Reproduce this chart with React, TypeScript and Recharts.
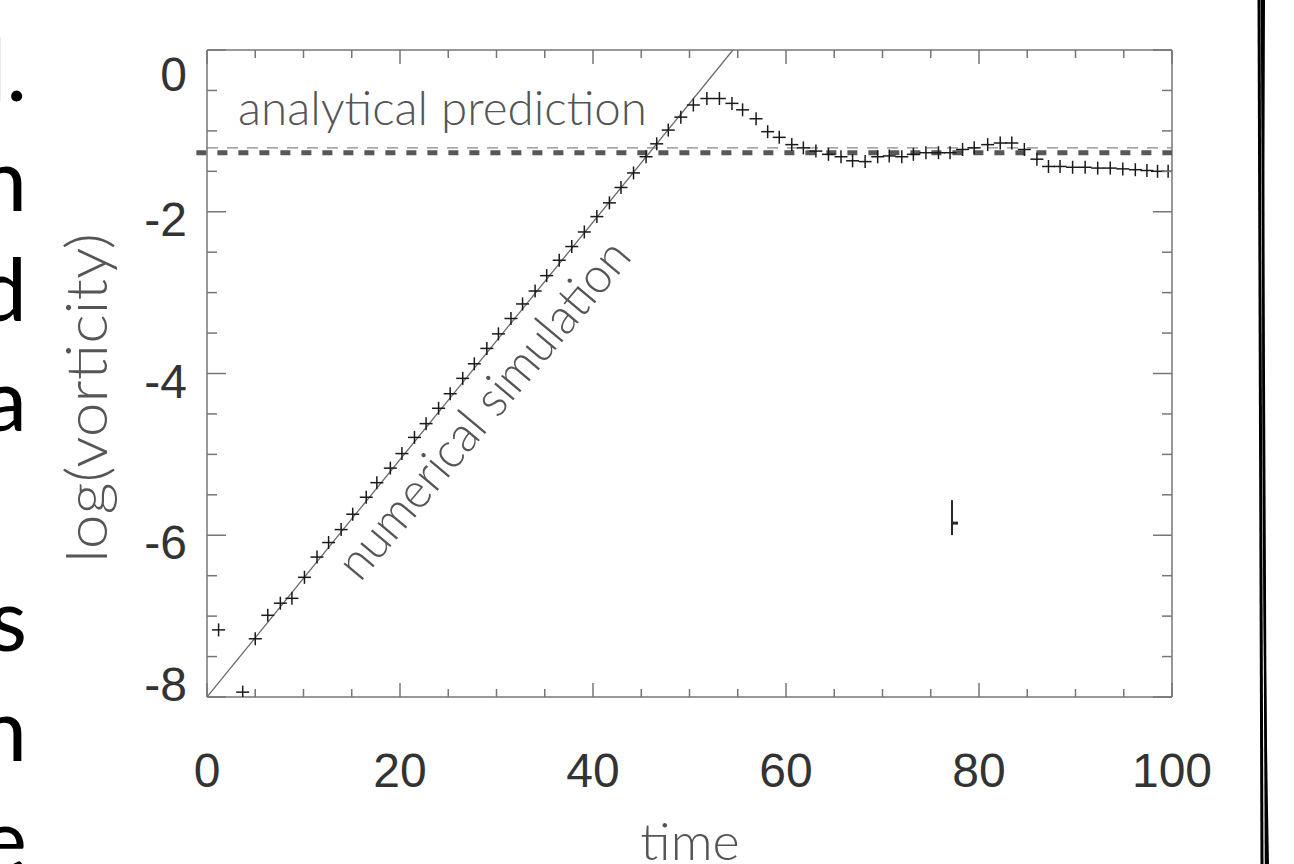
import React from 'react';
import { ComposedChart, Scatter, Line, XAxis, YAxis, ReferenceLine } from 'recharts';

// simulation samples (log vorticity vs time)
const simTime = [
  1.2, 3.7, 5.0, 6.3, 7.6, 8.8, 10.1, 11.4, 12.6, 13.9, 15.1, 16.5, 17.6, 19.0, 20.2, 21.5,
  22.7, 24.0, 25.2, 26.5, 27.7, 29.0, 30.2, 31.5, 32.7, 34.0, 35.2, 36.5, 37.8, 39.1, 40.4,
  41.7, 42.9, 44.2, 45.5, 46.6, 47.8, 49.1, 50.4, 51.8, 53.1, 54.4, 55.5, 56.9, 58.1, 59.3,
  60.6, 61.8, 63.1, 64.4, 65.7, 66.9, 68.2, 69.5, 70.7, 72.0, 73.2, 74.5, 75.8, 77.0, 78.3,
  79.5, 80.9, 82.2, 83.4, 84.7, 86.0, 87.2, 88.4, 89.7, 91.0, 92.3, 93.6, 94.9, 96.2, 97.4,
  98.5, 99.6
];
const simLogVort = [
  -7.17, -7.94, -7.28, -6.99, -6.84, -6.78, -6.52, -6.27, -6.09, -5.93, -5.74, -5.53, -5.35, -5.17, -4.99, -4.79,
  -4.62, -4.43, -4.25, -4.06, -3.88, -3.69, -3.51, -3.32, -3.14, -2.98, -2.79, -2.6, -2.43, -2.25, -2.06,
  -1.89, -1.7, -1.52, -1.32, -1.16, -0.99, -0.83, -0.68, -0.6, -0.6, -0.66, -0.74, -0.85, -1.01, -1.08,
  -1.17, -1.21, -1.25, -1.29, -1.32, -1.37, -1.38, -1.32, -1.31, -1.32, -1.29, -1.27, -1.27, -1.27, -1.23,
  -1.21, -1.17, -1.15, -1.15, -1.23, -1.35, -1.44, -1.44, -1.45, -1.45, -1.46, -1.46, -1.47, -1.48, -1.49,
  -1.5, -1.5
];

// linear growth fit
const theoryTime = [0, 54.5];
const theoryLogVort = [-8, 0];

// saturation levels
const predictionThin = -1.21;
const predictionThick = -1.27;

// stray mark in the lower right
const strayTime = [77.2];
const strayLogVort = [-5.85];

const xTicks = [0, 5, 10, 15, 20, 25, 30, 35, 40, 45, 50, 55, 60, 65, 70, 75, 80, 85, 90, 95, 100];
const xLabels = [0, 20, 40, 60, 80, 100];
const yTicks = [-8, -7.5, -7, -6.5, -6, -5.5, -5, -4.5, -4, -3.5, -3, -2.5, -2, -1.5, -1, -0.5, 0];
const yLabels = [-8, -6, -4, -2, 0];

// cut-off slide text on the left edge
const sideText = ['d.', 'n', 'd', 'a', '', 's', 'n', 'e'];

const W = 1294;
const H = 864;
const PLOT_L = 207;
const PLOT_T = 50;
const PLOT_R = 1172;
const PLOT_B = 697;
const PLOT_W = PLOT_R - PLOT_L;
const PLOT_H = PLOT_B - PLOT_T;
const AXIS = '#767676';
const NUM_FONT = '"Liberation Sans", Arial, sans-serif';
const GILL = 'Lato, "Open Sans", sans-serif';

const simData = simTime.map((t, i) => ({ t, v: simLogVort[i] }));
const theoryData = theoryTime.map((t, i) => ({ t, v: theoryLogVort[i] }));
const strayData = strayTime.map((t, i) => ({ t, v: strayLogVort[i] }));

const XTick = (props: any) => {
  const { x, y, payload } = props;
  const major = xLabels.includes(payload.value);
  const len = major ? 14 : 8;
  return (
    <g>
      <line x1={x} x2={x} y1={y} y2={y - len} stroke={AXIS} strokeWidth={1.5} />
      <line x1={x} x2={x} y1={y - PLOT_H} y2={y - PLOT_H + len} stroke={AXIS} strokeWidth={1.5} />
      {major && (
        <text x={x} y={y + 90} textAnchor="middle" fontFamily={NUM_FONT} fontSize={48} fill="#333">
          {payload.value}
        </text>
      )}
    </g>
  );
};

const YTick = (props: any) => {
  const { x, y, payload } = props;
  const major = yLabels.includes(payload.value);
  const len = major ? 19 : 10;
  let dy = 24;
  if (payload.value === 0) dy = 41;
  if (payload.value === -8) dy = 4;
  return (
    <g>
      <line x1={x} x2={x + len} y1={y} y2={y} stroke={AXIS} strokeWidth={1.5} />
      <line x1={x + PLOT_W} x2={x + PLOT_W - len} y1={y} y2={y} stroke={AXIS} strokeWidth={1.5} />
      {major && (
        <text x={x - 20} y={y + dy} textAnchor="end" fontFamily={NUM_FONT} fontSize={48} fill="#333">
          {payload.value}
        </text>
      )}
    </g>
  );
};

const Plus = (props: any) => {
  const { cx, cy } = props;
  if (cx == null || cy == null) return null;
  return (
    <g stroke="#1a1a1a" strokeWidth={1.5}>
      <line x1={cx - 6.5} x2={cx + 6.5} y1={cy} y2={cy} />
      <line x1={cx} x2={cx} y1={cy - 6.5} y2={cy + 6.5} />
    </g>
  );
};

const Stray = (props: any) => {
  const { cx, cy } = props;
  if (cx == null || cy == null) return null;
  return (
    <g stroke="#2a2a2a">
      <line x1={cx} x2={cx} y1={cy - 23} y2={cy + 12} strokeWidth={2} />
      <line x1={cx} x2={cx + 6} y1={cy} y2={cy} strokeWidth={3} />
    </g>
  );
};

export default function App() {
  return (
    <div style={{ position: 'absolute', left: 0, top: 0, width: W, height: H, background: '#fff' }}>
      <div style={{ position: 'absolute', left: 0, top: 0 }}>
        <ComposedChart
          width={W}
          height={H}
          margin={{ top: PLOT_T, right: W - PLOT_R, left: PLOT_L - 60, bottom: H - PLOT_B - 60 }}
        >
          <XAxis
            dataKey="t"
            type="number"
            domain={[0, 100]}
            ticks={xTicks}
            interval={0}
            height={60}
            tickSize={0}
            tickMargin={0}
            tickLine={false}
            axisLine={{ stroke: AXIS, strokeWidth: 1.5 }}
            tick={<XTick />}
            allowDataOverflow
          />
          <YAxis
            dataKey="v"
            type="number"
            domain={[-8, 0]}
            ticks={yTicks}
            interval={0}
            width={60}
            tickSize={0}
            tickMargin={0}
            tickLine={false}
            axisLine={{ stroke: AXIS, strokeWidth: 1.5 }}
            tick={<YTick />}
            allowDataOverflow
          />
          <ReferenceLine y={0} stroke={AXIS} strokeWidth={1.5} />
          <ReferenceLine x={100} stroke={AXIS} strokeWidth={1.5} />
          <ReferenceLine y={predictionThin} stroke="#888" strokeWidth={1.4} strokeDasharray="11 9" />
          <ReferenceLine
            segment={[{ x: -1.1, y: predictionThick }, { x: 100, y: predictionThick }]}
            ifOverflow="visible"
            stroke="#575757"
            strokeWidth={5}
            strokeDasharray="10 11"
          />
          <Line
            data={theoryData}
            dataKey="v"
            stroke="#6a6a6a"
            strokeWidth={1.3}
            dot={false}
            isAnimationActive={false}
          />
          <Scatter data={simData} shape={<Plus />} isAnimationActive={false} />
          <Scatter data={strayData} shape={<Stray />} isAnimationActive={false} />
        </ComposedChart>
      </div>
      <svg
        width={W}
        height={H}
        style={{ position: 'absolute', left: 0, top: 0, pointerEvents: 'none' }}
      >
        {sideText.map((s, i) => (
          <text key={i} x={27} y={101 + i * 110} textAnchor="end" fontFamily={GILL} fontSize={88} fill="#000">
            {s}
          </text>
        ))}
        <text
          x={238}
          y={125}
          fontFamily={GILL}
          fontWeight={300}
          fontSize={48}
          fill="#555"
          textLength={409}
          lengthAdjust="spacingAndGlyphs"
        >
          analytical prediction
        </text>
        <text
          x={360}
          y={583}
          transform="rotate(-50 360 583)"
          fontFamily={GILL}
          fontWeight={300}
          fontSize={50}
          fill="#555"
          textLength={425}
          lengthAdjust="spacingAndGlyphs"
        >
          numerical simulation
        </text>
        <text
          x={107}
          y={398}
          transform="rotate(-90 107 398)"
          textAnchor="middle"
          fontFamily={GILL}
          fontWeight={300}
          fontSize={58}
          fill="#555"
          textLength={330}
          lengthAdjust="spacingAndGlyphs"
        >
          log(vorticity)
        </text>
        <text x={690} y={860} textAnchor="middle" fontFamily={GILL} fontWeight={300} fontSize={52} fill="#555">
          time
        </text>
        <g fill="none" stroke="#000">
          <path d="M1259 0 C1258 220 1261 520 1262 864" strokeWidth={3} />
          <path d="M1262 0 C1261 300 1264 600 1266 864" strokeWidth={2.5} />
          <path d="M1264 0 C1263 250 1262 560 1268 864" strokeWidth={2} />
        </g>
      </svg>
    </div>
  );
}
